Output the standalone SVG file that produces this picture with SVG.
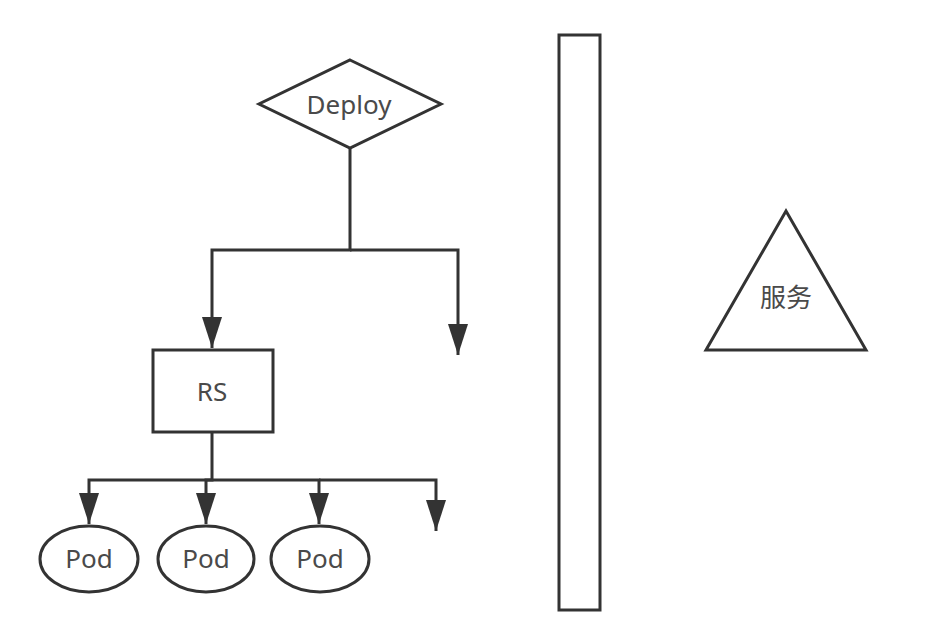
<svg xmlns="http://www.w3.org/2000/svg" width="926" height="624" viewBox="0 0 926 624">
<style>
.s{fill:#fff;stroke:#333;stroke-width:3;stroke-linejoin:miter}
.c{fill:none;stroke:#333;stroke-width:3}
.t{font-family:"Noto Sans","Noto Sans CJK SC",sans-serif;font-size:26px;fill:#4a4a4a;text-anchor:middle;dominant-baseline:central}
</style>
<defs>
<marker id="ah" markerUnits="userSpaceOnUse" markerWidth="32" markerHeight="22" viewBox="0 0 32 22" refX="31" refY="11" orient="auto">
<path d="M0,1 L31,11 L0,21 z" fill="#333"/>
</marker>
</defs>
<rect width="926" height="624" fill="#fff"/>
<g id="connectors">
<path class="c" d="M350,148 V250 H212 V348" marker-end="url(#ah)"/>
<path class="c" d="M350,250 H458 V355" marker-end="url(#ah)"/>
<path class="c" d="M212,432 V480 H89 V524" marker-end="url(#ah)"/>
<path class="c" d="M212,480 H206 V524" marker-end="url(#ah)"/>
<path class="c" d="M212,480 H319 V524" marker-end="url(#ah)"/>
<path class="c" d="M319,480 H436 V531" marker-end="url(#ah)"/>
</g>
<g id="deploy">
<polygon class="s" points="350,60 441,104 350,148 259,104"/>
<text class="t" x="349" y="104">Deploy</text>
</g>
<g id="rs">
<rect class="s" x="153" y="350" width="120" height="82"/>
<text class="t" x="212" y="391">RS</text>
</g>
<g id="pod1">
<ellipse class="s" cx="89" cy="559" rx="49" ry="33"/>
<text class="t" x="89" y="558">Pod</text>
</g>
<g id="pod2">
<ellipse class="s" cx="206" cy="559" rx="48" ry="33"/>
<text class="t" x="206" y="558">Pod</text>
</g>
<g id="pod3">
<ellipse class="s" cx="320" cy="559" rx="49" ry="33"/>
<text class="t" x="320" y="558">Pod</text>
</g>
<g id="bar">
<rect class="s" x="559" y="35" width="41" height="575"/>
</g>
<g id="service">
<polygon class="s" points="786,211 866,350 706,350"/>
<text class="t" x="786" y="297">服务</text>
</g>
</svg>
